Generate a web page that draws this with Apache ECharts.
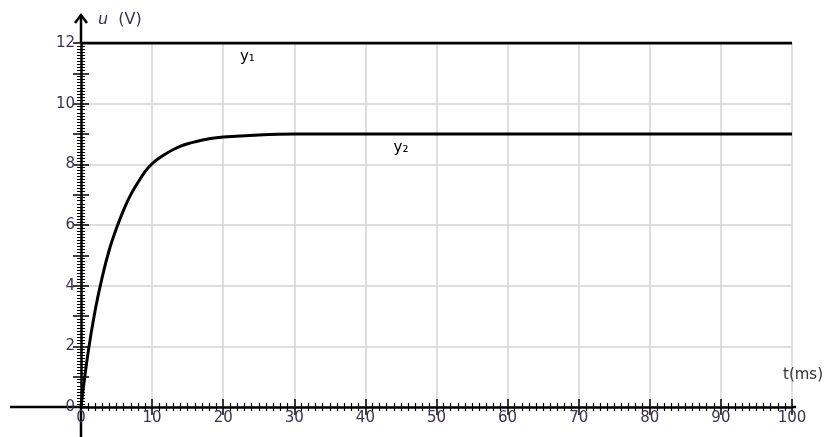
<!DOCTYPE html>
<html>
	<head>
		<meta charset="utf-8">
		<title>u(t)</title>
		<script src="https://cdn.jsdelivr.net/npm/echarts@6/dist/echarts.min.js"></script>
	</head>
	<body style="margin:0">
		<div id="box" style="width: 840px;height: 437px;"></div>
		<script>
			var mCharts = echarts.init(document.querySelector('#box'))

			// t (ms)
			var tData = [0, 1, 2, 3, 4, 5, 6, 7, 8, 9, 10, 11, 12, 13, 14, 15, 16, 18, 20, 25, 30, 40, 100]
			// y2 (V)
			var y2Data = [0, 1.8, 3.2, 4.3, 5.2, 5.9, 6.5, 7.0, 7.4, 7.76, 8.02, 8.21, 8.36, 8.49, 8.6, 8.68, 8.74, 8.84, 8.9, 8.97, 9.0, 9.0, 9.0]
			// y1 constant
			var y1T = [0, 100]
			var y1Data = [12, 12]

			var labelColor = '#3d3350'
			var font = 'DejaVu Sans'

			var y2 = tData.map(function (t, i) { return [t, y2Data[i]] })
			var y1 = y1T.map(function (t, i) { return [t, y1Data[i]] })

			function tickAxis(inside) {
				return {
					type: 'value', min: 0, max: 12, interval: 1,
					axisLine: { show: false },
					axisLabel: { show: false },
					splitLine: { show: false },
					axisTick: { show: true, inside: inside, length: 8, lineStyle: { color: '#000', width: 1.5 } },
					minorTick: { show: true, splitNumber: 10, length: 4, lineStyle: { color: '#000', width: 1 } }
				}
			}
			function tickXAxis(inside) {
				return {
					type: 'value', min: 0, max: 100, interval: 10, position: 'bottom',
					axisLine: { show: false },
					axisLabel: { show: false },
					splitLine: { show: false },
					axisTick: { show: true, inside: inside, length: 8, lineStyle: { color: '#000', width: 1.5 } },
					minorTick: { show: true, splitNumber: 10, length: 4, lineStyle: { color: '#000', width: 1.2 } }
				}
			}

			var option = {
				animation: false,
				backgroundColor: '#fff',
				grid: { left: 81, right: 48, top: 43, bottom: 30 },
				xAxis: [
					{
						type: 'value', min: 0, max: 100, interval: 10,
						axisLine: { show: true, lineStyle: { color: '#000', width: 2.5 } },
						axisTick: { show: false },
						axisLabel: { color: labelColor, fontFamily: font, fontSize: 15, margin: 4 },
						splitLine: { show: true, lineStyle: { color: '#d4d4d4', width: 1.5 } }
					},
					tickXAxis(false),
					tickXAxis(true)
				],
				yAxis: [
					{
						type: 'value', min: 0, max: 12, interval: 2,
						axisLine: { show: true, lineStyle: { color: '#000', width: 2.5 } },
						axisTick: { show: false },
						axisLabel: { color: labelColor, fontFamily: font, fontSize: 15, margin: 6 },
						splitLine: { show: true, lineStyle: { color: '#d4d4d4', width: 1.5 } }
					},
					tickAxis(false),
					tickAxis(true)
				],
				series: [
					{
						name: 'y1', type: 'line', data: y1, showSymbol: false,
						lineStyle: { color: '#000', width: 3 },
						markPoint: {
							symbol: 'circle', symbolSize: 0,
							label: { show: true, formatter: '{b}', color: '#000', fontFamily: font, fontSize: 15 },
							data: [{ name: 'y₁', coord: [23.4, 11.55] }]
						}
					},
					{
						name: 'y2', type: 'line', data: y2, showSymbol: false,
						smooth: 0.3,
						lineStyle: { color: '#000', width: 3 },
						markPoint: {
							symbol: 'circle', symbolSize: 0,
							label: { show: true, formatter: '{b}', color: '#000', fontFamily: font, fontSize: 15 },
							data: [{ name: 'y₂', coord: [45, 8.55] }]
						}
					}
				]
			}
			mCharts.setOption(option)

			// axis extensions, arrow and axis names
			var orig = mCharts.convertToPixel({ xAxisIndex: 0, yAxisIndex: 0 }, [0, 0])
			var yTop = mCharts.convertToPixel({ xAxisIndex: 0, yAxisIndex: 0 }, [0, 12])
			var xEnd = mCharts.convertToPixel({ xAxisIndex: 0, yAxisIndex: 0 }, [100, 0])
			var black = { stroke: '#000', lineWidth: 2.5 }
			mCharts.setOption({
				graphic: [
					{ type: 'line', shape: { x1: orig[0], y1: yTop[1], x2: orig[0], y2: yTop[1] - 28 }, style: black },
					{ type: 'polyline', shape: { points: [[orig[0] - 6, yTop[1] - 20], [orig[0], yTop[1] - 28], [orig[0] + 6, yTop[1] - 20]] }, style: { stroke: '#000', lineWidth: 2.5, fill: null } },
					{ type: 'line', shape: { x1: orig[0], y1: orig[1], x2: orig[0], y2: 437 }, style: black },
					{ type: 'line', shape: { x1: 10, y1: orig[1], x2: orig[0], y2: orig[1] }, style: black },
					{ type: 'line', shape: { x1: xEnd[0], y1: orig[1], x2: xEnd[0] + 4, y2: orig[1] }, style: black },
					{
						type: 'text', left: 98, top: 12,
						style: {
							text: '{i|u}  (V)', fill: labelColor, font: '16px ' + font,
							rich: { i: { fontStyle: 'italic', fontSize: 16, fontFamily: font, fill: labelColor } }
						}
					},
					{ type: 'text', left: 783, top: 368, style: { text: 't(ms)', fill: '#333', font: '15px ' + font } }
				]
			})
		</script>
	</body>
</html>
